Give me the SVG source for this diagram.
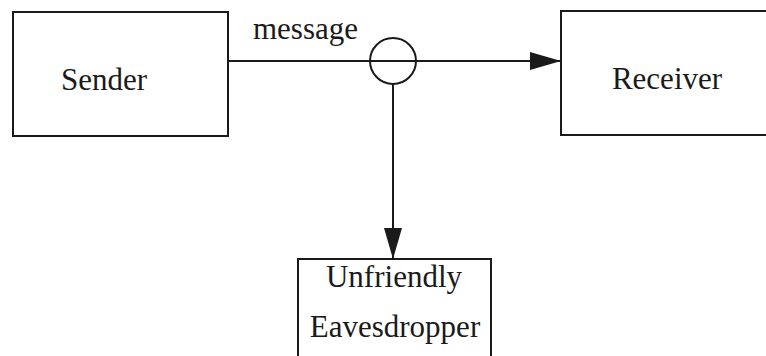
<svg xmlns="http://www.w3.org/2000/svg" width="766" height="356" viewBox="0 0 766 356">
  <style>
    .box { fill: #fff; stroke: #1a1a1a; stroke-width: 2; }
    .wire { fill: none; stroke: #1a1a1a; stroke-width: 2; }
    .lbl { font-family: "Liberation Serif", "Times New Roman", serif; font-size: 31px; fill: #1a1a1a; }
  </style>
  <defs>
    <marker id="arrow" markerUnits="userSpaceOnUse" markerWidth="32" markerHeight="18" refX="31" refY="9" orient="auto">
      <path d="M0,0 L31,9 L0,18 Z" fill="#1a1a1a"/>
    </marker>
  </defs>
  <rect width="766" height="356" fill="#fff"/>

  <g id="connectors">
    <line class="wire" x1="228" y1="61" x2="561" y2="61" marker-end="url(#arrow)"/>
    <line class="wire" x1="393" y1="84" x2="393" y2="259" marker-end="url(#arrow)"/>
    <circle class="wire" cx="393" cy="61" r="23"/>
    <text class="lbl" x="253" y="39">message</text>
  </g>

  <g id="sender">
    <rect class="box" x="13" y="12" width="215" height="124"/>
    <text class="lbl" x="104" y="90" text-anchor="middle">Sender</text>
  </g>

  <g id="receiver">
    <rect class="box" x="561" y="11" width="220" height="124"/>
    <text class="lbl" x="667" y="89" text-anchor="middle">Receiver</text>
  </g>

  <g id="eavesdropper">
    <rect class="box" x="298" y="259" width="193" height="110"/>
    <text class="lbl" x="394" y="287" text-anchor="middle">Unfriendly</text>
    <text class="lbl" x="395" y="337" text-anchor="middle">Eavesdropper</text>
  </g>
</svg>
